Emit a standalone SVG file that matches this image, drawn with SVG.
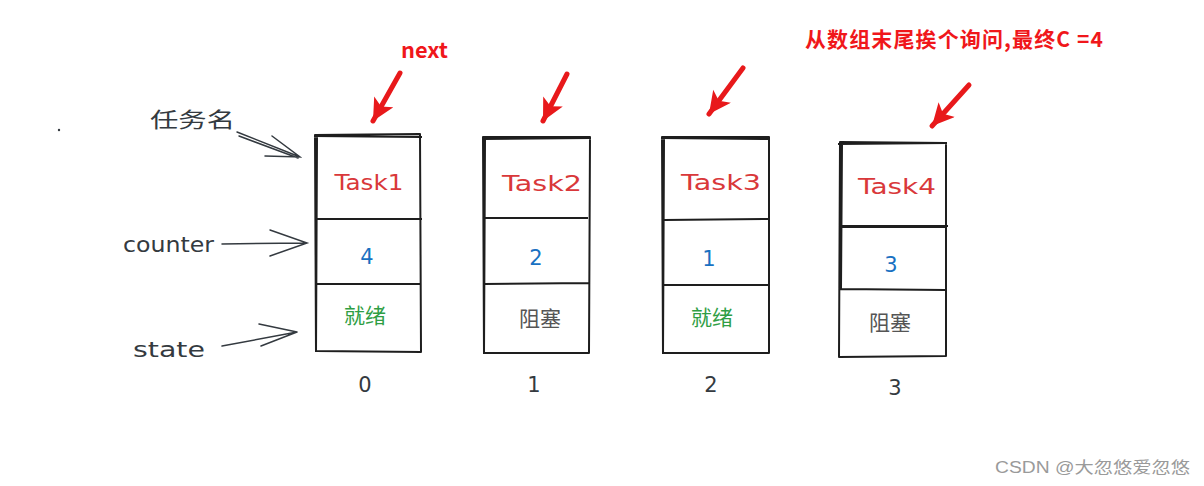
<svg xmlns="http://www.w3.org/2000/svg" width="1204" height="486" viewBox="0 0 1204 486">
<style>
.box{fill:none;stroke:#1e1e1e;stroke-width:2;stroke-linejoin:round}
.hand{font-family:"DejaVu Sans","Noto Sans CJK SC",sans-serif}
.task{fill:#d9383a;font-size:21px;text-anchor:middle}
.cnt{fill:#1971c2;font-size:21px;text-anchor:middle}
.ready{fill:#2f9e44;font-size:21px;text-anchor:middle}
.block{fill:#555555;font-size:21px;text-anchor:middle}
.lbl{fill:#343a40;font-size:21px}
.idx{fill:#343a40;font-size:21px;text-anchor:middle}
.red{stroke:#e8191b;stroke-width:5;stroke-linecap:round;fill:none}
.blk{stroke:#343a40;stroke-width:1.5;fill:none;stroke-linecap:round}
.note{font-family:"Noto Sans CJK SC","Liberation Sans",sans-serif;font-weight:bold;fill:#f0171b;stroke:#ffffff;stroke-width:3;paint-order:stroke}
</style>
<defs>
<marker id="rh" viewBox="0 0 10 10" refX="10" refY="5" markerWidth="4.6" markerHeight="4.4" orient="auto" markerUnits="strokeWidth">
<path d="M0,0 L10,5 L0,10 L2.5,5 Z" fill="#e8191b"/>
</marker>
</defs>
<rect width="1204" height="486" fill="#ffffff"/>
<circle cx="59" cy="130" r="1.2" fill="#343a40"/>

<g id="connectors">
<path class="red" d="M400,73 L373,121" marker-end="url(#rh)"/>
<path class="red" d="M567,74 L543,121" marker-end="url(#rh)"/>
<path class="red" d="M743,68 L709,114" marker-end="url(#rh)"/>
<path class="red" d="M969,85 L932,126" marker-end="url(#rh)"/>
<path class="blk" d="M237,132 L300,157 M239,136 L298,158 M272,136 L300,157 L265,156"/>
<path class="blk" d="M222,244 L307,243 M270,230 L307,243 L270,256"/>
<path class="blk" d="M222,346 L297,332 M259,324 L297,332 M261,346 L297,332"/>
</g>

<g id="labels">
<text class="hand lbl" x="150" y="127" textLength="85" lengthAdjust="spacingAndGlyphs">任务名</text>
<text class="hand lbl" x="123" y="252" textLength="91" lengthAdjust="spacingAndGlyphs">counter</text>
<text class="hand lbl" x="133" y="357" textLength="72" lengthAdjust="spacingAndGlyphs">state</text>
<text class="note" x="401" y="58" font-size="21" textLength="47" lengthAdjust="spacingAndGlyphs">next</text>
<text class="note" x="805" y="47" font-size="21" textLength="298">从数组末尾挨个询问,最终C =4</text>
</g>

<g id="node0">
<path class="box" d="M315,135 L420,134 L421,352 L316,351 Z M317,137 L316,352 M314,136 L422,137 M316,219 L422,219 M315,284 L421,284"/>
<text class="hand task" x="369" y="190" textLength="69" lengthAdjust="spacingAndGlyphs">Task1</text>
<text class="hand cnt" x="367" y="264">4</text>
<text class="hand ready" x="365" y="323">就绪</text>
<text class="hand idx" x="365" y="392">0</text>
</g>
<g id="node1">
<path class="box" d="M483,137 L590,137 L589,353 L484,353 Z M485,138 L484,354 M482,139 L591,138 M484,218 L588,218 M484,284 L589,283"/>
<text class="hand task" x="542" y="191" textLength="80" lengthAdjust="spacingAndGlyphs">Task2</text>
<text class="hand cnt" x="536" y="265">2</text>
<text class="hand block" x="540" y="326">阻塞</text>
<text class="hand idx" x="534" y="392">1</text>
</g>
<g id="node2">
<path class="box" d="M662,137 L769,137 L769,353 L663,353 Z M664,139 L663,354 M661,138 L770,139 M664,220 L769,219 M663,285 L769,285"/>
<text class="hand task" x="721" y="190" textLength="80" lengthAdjust="spacingAndGlyphs">Task3</text>
<text class="hand cnt" x="709" y="266">1</text>
<text class="hand ready" x="712" y="325">就绪</text>
<text class="hand idx" x="711" y="392">2</text>
</g>
<g id="node3">
<path class="box" d="M840,142 L946,143 L946,356 L839,357 Z M842,143 L841,289 M838,144 L947,143 M840,226 L948,226 M841,227 L945,227 M840,289 L945,290"/>
<text class="hand task" x="897" y="194" textLength="78" lengthAdjust="spacingAndGlyphs">Task4</text>
<text class="hand cnt" x="891" y="272">3</text>
<text class="hand block" x="890" y="330">阻塞</text>
<text class="hand idx" x="895" y="395">3</text>
</g>
<text x="995" y="473" font-family="Liberation Sans,Noto Sans CJK SC,sans-serif" font-size="16" fill="#9a9a9a" textLength="195" lengthAdjust="spacingAndGlyphs">CSDN @大忽悠爱忽悠</text>
</svg>
